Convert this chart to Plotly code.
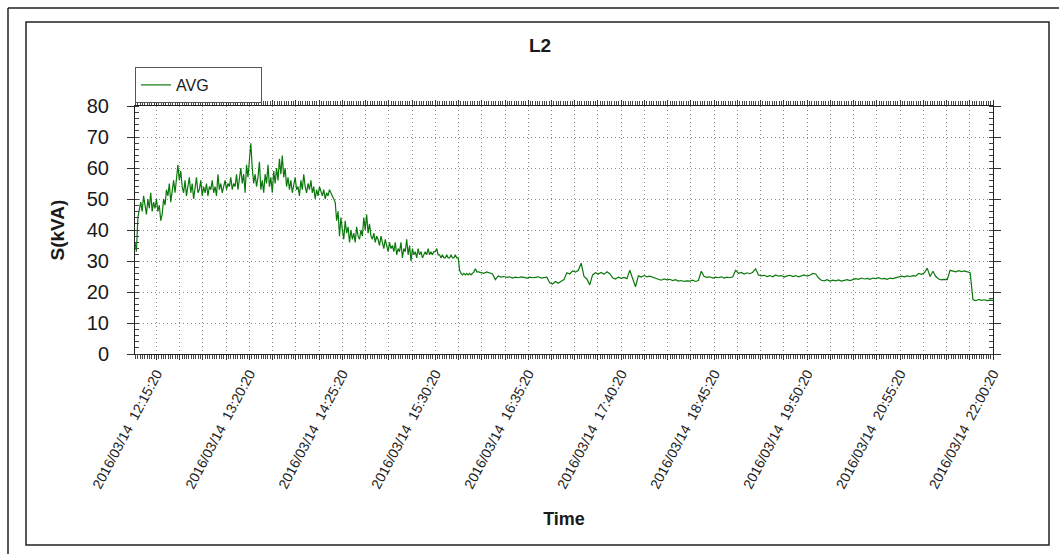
import pandas as pd
import plotly.graph_objects as go

# ---------------- data ----------------
start_time = "2016-03-14 12:00:20"
end_time = "2016-03-14 22:00:20"

# 1-minute samples, 12:00:20 .. 15:59:20 (noisy part)
avg_minute = [
    36, 33, 44, 47, 49, 46, 51, 48, 45, 50,
    47, 52, 46, 49, 47, 50, 46, 48, 43, 45,
    50, 48, 53, 51, 55, 49, 53, 56, 52, 57,
    61, 56, 59, 54, 52, 56, 51, 54, 57, 52,
    55, 50, 54, 57, 52, 53, 56, 51, 54, 52,
    55, 51, 54, 53, 56, 52, 54, 51, 58, 53,
    55, 52, 54, 56, 53, 55, 54, 57, 53, 55,
    54, 58, 53, 57, 60, 55, 58, 52, 61, 57,
    62, 68, 60, 55, 58, 54, 57, 62, 53, 56,
    52, 58, 55, 61, 54, 57, 52, 59, 55, 60,
    56, 63, 58, 64, 57, 60, 54, 57, 53, 56,
    52, 55, 57, 53, 54, 51, 56, 53, 58, 54,
    52, 55, 53, 56, 52, 54, 50, 53, 51, 54,
    52, 51, 53, 50, 52, 51, 53, 52, 51, 50,
    49, 43, 46, 38, 44, 40, 37, 43, 39, 41,
    36, 40, 37, 39, 36, 41, 38, 37, 40, 38,
    44, 40, 45, 39, 42, 38, 37, 39, 36, 38,
    37, 35, 38, 36, 34, 37, 35, 33, 36, 34,
    35, 33, 36, 32, 34, 33, 36, 31, 34, 33,
    37, 32, 35, 30, 34, 32, 33, 31, 34, 32,
    33, 31, 32, 33, 32, 34, 32, 33, 32, 33,
    33, 34, 32, 32, 31, 32, 31, 31, 32, 31,
    31, 32, 31, 31, 32, 31, 31, 27, 26, 25.5,
    26, 25.5, 26, 25.5, 26, 25.5, 26, 26.5, 27.5, 26.5,
]

# 2-minute samples, 16:00:20 .. 22:00:20 (calm part)
avg_two_minute = [
    26.5, 26.3, 26, 26.5, 26.2, 25.8, 24, 25.2, 24.8, 25,
    24.7, 24.9, 24.5, 24.8, 24.6, 24.9, 24.7, 24.5, 24.8, 24.6,
    24.7, 24.9, 24.5, 24.7, 24.8, 23, 22.6, 23.4, 22.8, 23.5,
    24, 26.2, 25.8, 26.8, 26.4, 27, 29.3, 25, 24.2, 22.3,
    25.5, 26.2, 25.8, 26.3, 25.7, 26.5, 25.9, 24.6, 24.2, 24.8,
    24.4, 24.7, 24.3, 27, 24.5, 21.7, 25.2, 24.8, 25.3, 24.9,
    25.1, 24.7, 24.3, 24.1, 23.8, 24.2, 23.9, 24.1, 23.7, 24.0,
    23.5, 23.7, 23.4, 23.6, 23.5, 23.8, 23.4, 23.7, 26.7, 25,
    24.7, 24.9, 24.5, 24.8, 24.6, 24.9, 24.5, 24.8, 24.6, 24.9,
    27, 26, 26.3, 25.8, 26.2, 25.9, 26.4, 27.5, 25.5, 25.2,
    25.4, 25, 25.3, 24.9, 25.5, 25.1, 25.3, 24.8, 25.2, 25.4,
    25, 25.3, 24.9, 25.2, 25.5, 25.1, 25.4, 26, 25.8, 24.5,
    23.8, 23.6, 24, 23.5, 23.8, 23.6, 23.9, 23.5, 23.8, 24,
    23.7, 24, 24.3, 24.1, 24.5, 24.2, 24.4, 24.1, 24.5, 24.3,
    24.6, 24.2, 24.4, 24.1, 24.5, 24.3, 24.6, 24.8, 25.1, 24.9,
    25.2, 25, 25.3, 25.1, 26, 25.7, 26.2, 27.7, 25, 26.7,
    25, 24.2, 23.9, 24.1, 24, 27, 26.8, 26.5, 26.9, 26.6,
    26.8, 26.5, 26.2, 17.5, 17.2, 17.6, 17.3, 17.5, 17.2, 17.4,
    17.3,
]

tick_label_times = [
    "2016-03-14 12:15:20", "2016-03-14 13:20:20", "2016-03-14 14:25:20",
    "2016-03-14 15:30:20", "2016-03-14 16:35:20", "2016-03-14 17:40:20",
    "2016-03-14 18:45:20", "2016-03-14 19:50:20", "2016-03-14 20:55:20",
    "2016-03-14 22:00:20",
]
tick_labels = [
    "2016/03/14\u00a0 12:15:20", "2016/03/14\u00a0 13:20:20", "2016/03/14\u00a0 14:25:20",
    "2016/03/14\u00a0 15:30:20", "2016/03/14\u00a0 16:35:20", "2016/03/14\u00a0 17:40:20",
    "2016/03/14\u00a0 18:45:20", "2016/03/14\u00a0 19:50:20", "2016/03/14\u00a0 20:55:20",
    "2016/03/14\u00a0 22:00:20",
]
grid_per_label = 4  # dotted grid lines per labelled interval

# ---------------- build ----------------
t_min = pd.date_range(start_time, periods=len(avg_minute), freq="1min")
t_two = pd.date_range(t_min[-1] + pd.Timedelta(minutes=1), periods=len(avg_two_minute), freq="2min")
times = list(t_min) + list(t_two)
values = avg_minute + avg_two_minute

lab_ts = pd.to_datetime(tick_label_times)
tickvals, ticktext = [], []
for i in range(len(lab_ts)):
    tickvals.append(lab_ts[i])
    ticktext.append(tick_labels[i])
    if i + 1 < len(lab_ts):
        step = (lab_ts[i + 1] - lab_ts[i]) / grid_per_label
        for k in range(1, grid_per_label):
            tickvals.append(lab_ts[i] + step * k)
            ticktext.append("")
minor_step_ms = (lab_ts[1] - lab_ts[0]) / grid_per_label / 10 / pd.Timedelta(milliseconds=1)

FONT = "Liberation Sans, Arial, sans-serif"
GRID_DASH = "1px,3px"

fig = go.Figure()
fig.add_trace(go.Scatter(
    x=times, y=values, mode="lines", name="AVG",
    line=dict(color="#0b780b", width=1.2),
))

L, R, T, B = 135, 66, 106, 200
W, H = 1059, 554
pw, ph = W - L - R, H - T - B


def px_x(px):
    return (px - L) / pw


def px_y(py):
    return (H - B - py) / ph


fig.update_layout(
    width=W, height=H,
    margin=dict(l=L, r=R, t=T, b=B, autoexpand=False),
    paper_bgcolor="white", plot_bgcolor="white",
    font=dict(family=FONT, color="#1a1a1a"),
    title=dict(text="<b>L2</b>", x=0.51, xanchor="center", y=1 - 45 / H, yanchor="middle",
               font=dict(size=19, family=FONT, color="#1a1a1a")),
    showlegend=True,
    legend=dict(
        orientation="h",
        x=0, xanchor="left", y=px_y(85), yanchor="middle",
        bordercolor="#555", borderwidth=1, bgcolor="white",
        font=dict(size=16, family=FONT, color="#1a1a1a"),
        entrywidth=80, entrywidthmode="pixels",
        tracegroupgap=0,
    ),
    xaxis=dict(
        type="date",
        range=[start_time, end_time],
        tickmode="array", tickvals=tickvals, ticktext=ticktext,
        tickangle=-62,
        tickfont=dict(size=14, family=FONT, color="#222"),
        ticks="outside", ticklen=5, tickcolor="#333", tickwidth=1,
        showgrid=True, gridcolor="#8a8a8a", griddash=GRID_DASH, gridwidth=1,
        minor=dict(dtick=minor_step_ms, tick0=tick_label_times[0], ticks="outside",
                   ticklen=4, tickcolor="#444", showgrid=False),
        showline=True, linecolor="#222", linewidth=1, mirror="allticks",
        zeroline=False,
        title=dict(text="<b>Time</b>", font=dict(size=18, family=FONT, color="#1a1a1a"), standoff=22),
        automargin=False,
    ),
    yaxis=dict(
        range=[0, 80], dtick=10, tick0=0,
        tickfont=dict(size=20, family=FONT, color="#1a1a1a"),
        ticks="outside", ticklen=7, tickcolor="#333", tickwidth=1,
        ticklabelstandoff=14,
        showgrid=True, gridcolor="#8a8a8a", griddash=GRID_DASH, gridwidth=1,
        minor=dict(dtick=2, ticks="inside", ticklen=4, tickcolor="#444", showgrid=False),
        showline=True, linecolor="#222", linewidth=1, mirror="allticks",
        zeroline=False,
        title=dict(text="<b>S(kVA)</b>", font=dict(size=19, family=FONT, color="#1a1a1a"), standoff=17),
        automargin=False,
    ),
    shapes=[
        # inner frame
        dict(type="rect", xref="paper", yref="paper",
             x0=px_x(26), x1=px_x(1049), y0=px_y(545), y1=px_y(22),
             line=dict(color="#222", width=1.5), layer="below"),
        # outer frame (top and left edges)
        dict(type="line", xref="paper", yref="paper",
             x0=px_x(8), x1=px_x(1059), y0=px_y(8), y1=px_y(8),
             line=dict(color="#222", width=1.5)),
        dict(type="line", xref="paper", yref="paper",
             x0=px_x(8), x1=px_x(8), y0=px_y(8), y1=px_y(554),
             line=dict(color="#222", width=1.5)),
    ],
)

fig.write_html("out.html")
